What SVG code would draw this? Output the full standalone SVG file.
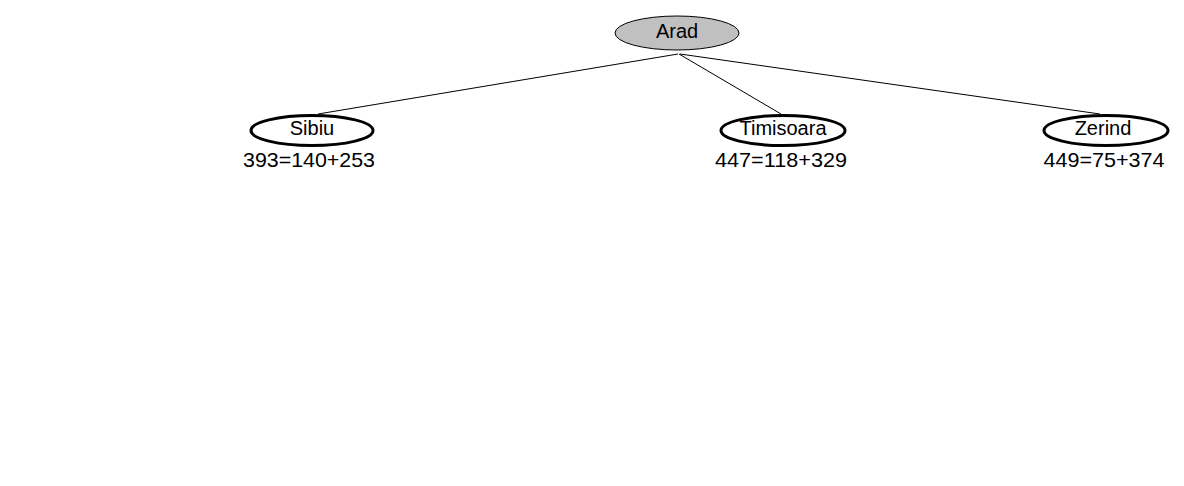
<svg xmlns="http://www.w3.org/2000/svg" width="1184" height="486" viewBox="0 0 1184 486">
<style>
text{font-family:"Liberation Sans",Arial,sans-serif;font-size:20px;fill:#000;text-anchor:middle}
.lbl{font-size:21px}
.leaf{fill:#fff;stroke:#000;stroke-width:3}
.root{fill:#c0c0c0;stroke:#000;stroke-width:1}
.edge{stroke:#000;stroke-width:1;fill:none}
</style>
<rect width="1184" height="486" fill="#fff"/>
<g id="connectors">
<line class="edge" x1="678" y1="54" x2="318" y2="114"/>
<line class="edge" x1="679" y1="54" x2="781" y2="114"/>
<line class="edge" x1="680" y1="54" x2="1100" y2="114"/>
</g>
<g id="arad">
<ellipse class="root" cx="677" cy="33" rx="62" ry="17"/>
<text x="677" y="38">Arad</text>
</g>
<g id="sibiu">
<ellipse class="leaf" cx="312" cy="130.5" rx="61" ry="15"/>
<text x="312" y="135">Sibiu</text>
<text class="lbl" x="309" y="167" textLength="132" lengthAdjust="spacingAndGlyphs">393=140+253</text>
</g>
<g id="timisoara">
<ellipse class="leaf" cx="783" cy="130.5" rx="62" ry="15"/>
<text x="783" y="135">Timisoara</text>
<text class="lbl" x="781" y="167" textLength="132" lengthAdjust="spacingAndGlyphs">447=118+329</text>
</g>
<g id="zerind">
<ellipse class="leaf" cx="1106" cy="130.5" rx="62" ry="15"/>
<text x="1103" y="135">Zerind</text>
<text class="lbl" x="1104" y="167" textLength="121" lengthAdjust="spacingAndGlyphs">449=75+374</text>
</g>
</svg>
